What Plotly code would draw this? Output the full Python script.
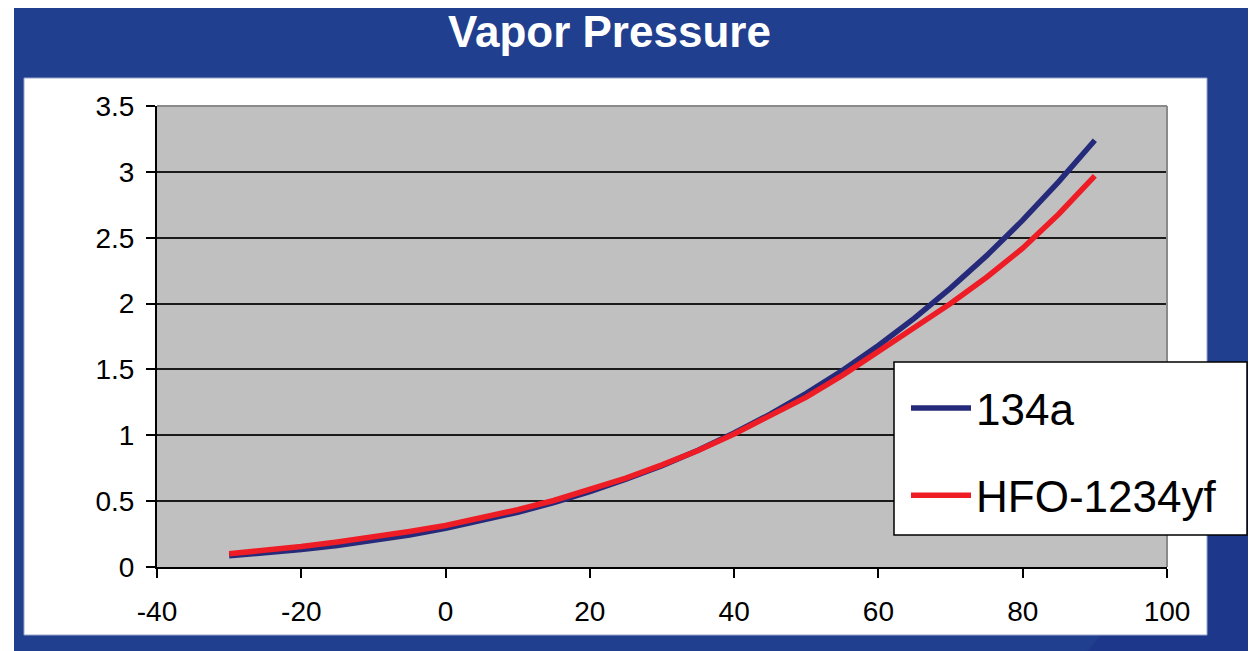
import plotly.graph_objects as go

# Data (temperature in °C, vapor pressure in MPa)
temps = [-30, -25, -20, -15, -10, -5, 0, 5, 10, 15, 20, 25, 30, 35, 40, 45, 50, 55, 60, 65, 70, 75, 80, 85, 90]
p_134a = [0.085, 0.106, 0.133, 0.164, 0.201, 0.243, 0.293, 0.350, 0.415, 0.489, 0.572, 0.666, 0.770,
          0.887, 1.017, 1.160, 1.318, 1.492, 1.682, 1.889, 2.117, 2.364, 2.633, 2.926, 3.240]
p_1234yf = [0.100, 0.125, 0.155, 0.190, 0.225, 0.270, 0.315, 0.370, 0.435, 0.505, 0.585, 0.675, 0.775,
            0.885, 1.010, 1.145, 1.290, 1.455, 1.635, 1.815, 2.000, 2.200, 2.420, 2.680, 2.970]
series_names = ["134a", "HFO-1234yf"]
series_colors = ["#262a7a", "#ee1c25"]
x_ticks = [-40, -20, 0, 20, 40, 60, 80, 100]
y_ticks = [0, 0.5, 1, 1.5, 2, 2.5, 3, 3.5]
title_text = "Vapor Pressure"

OFF = 8                      # page body margin in the browser
FW, FH = 1256 - OFF, 651 - OFF
L, R, T, B = 157, 1167, 106, 567  # plot area in page pixels


def fx(px):
    return (px - L) / (R - L)


def fy(py):
    return (B - py) / (B - T)


FONT = "Arial, Liberation Sans, Helvetica, sans-serif"
BLUE = "#213f8f"

fig = go.Figure()
for i, (name, vals) in enumerate(zip(series_names, [p_134a, p_1234yf])):
    fig.add_trace(go.Scatter(
        x=temps, y=vals, mode="lines", name=name, legendgroup=name,
        line=dict(color=series_colors[i], width=5.5),
    ))

shapes = [
    # blue slide background
    dict(type="rect", xref="paper", yref="paper", x0=fx(14), x1=fx(1270), y0=fy(-10), y1=fy(660),
         fillcolor=BLUE, line=dict(width=0), layer="below"),
    # subtle darker swoosh bottom right
    dict(type="path", xref="paper", yref="paper",
         path=f"M {fx(1080)} {fy(660)} Q {fx(1200)} {fy(520)} {fx(1270)} {fy(300)} L {fx(1270)} {fy(660)} Z",
         fillcolor="#1d388a", line=dict(width=0), layer="below"),
    # white chart panel
    dict(type="rect", xref="paper", yref="paper", x0=fx(24), x1=fx(1207), y0=fy(78), y1=fy(635),
         fillcolor="white", line=dict(color="#9aa6c8", width=1), layer="below"),
    # gray plot area
    dict(type="rect", xref="paper", yref="paper", x0=0, x1=1, y0=0, y1=1,
         fillcolor="#c0c0c0", line=dict(width=0), layer="below"),
    # gray top/right border of plot area
    dict(type="line", xref="paper", yref="paper", x0=0, x1=1, y0=1, y1=1,
         line=dict(color="#8a8a8a", width=2), layer="above"),
    dict(type="line", xref="paper", yref="paper", x0=1, x1=1, y0=0, y1=1,
         line=dict(color="#8a8a8a", width=2), layer="above"),
    # legend box
    dict(type="rect", xref="paper", yref="paper", x0=fx(894), x1=fx(1247), y0=fy(362), y1=fy(535),
         fillcolor="white", line=dict(color="black", width=1.5), layer="above"),
]

fig.update_layout(
    width=FW, height=FH,
    margin=dict(l=L - OFF, r=FW - (R - OFF), t=T - OFF, b=FH - (B - OFF), pad=0),
    paper_bgcolor="white",
    plot_bgcolor="#c0c0c0",
    font=dict(family=FONT, color="black", size=28),
    shapes=shapes,
    annotations=[dict(
        text=f"<b>{title_text}</b>", xref="paper", yref="paper",
        x=fx(609), y=fy(31), xanchor="center", yanchor="middle", showarrow=False,
        font=dict(family=FONT, size=44, color="white"),
    )],
    showlegend=True,
    legend=dict(
        x=fx(906), y=fy(373), xanchor="left", yanchor="top",
        bgcolor="rgba(0,0,0,0)", borderwidth=0,
        font=dict(family=FONT, size=44, color="black"),
        tracegroupgap=27, itemwidth=60,
    ),
    xaxis=dict(
        range=[-40, 100], tickvals=x_ticks, ticktext=[str(v) for v in x_ticks],
        showgrid=False, zeroline=False,
        showline=True, linecolor="black", linewidth=2,
        ticks="outside", ticklen=9, tickwidth=1.5, tickcolor="black",
        tickfont=dict(size=28), ticklabelstandoff=9,
    ),
    yaxis=dict(
        range=[0, 3.5], tickvals=y_ticks, ticktext=[f"{v:g}" for v in y_ticks],
        showgrid=True, gridcolor="#1a1a1a", gridwidth=2, zeroline=False,
        showline=True, linecolor="black", linewidth=2,
        ticks="outside", ticklen=9, tickwidth=1.5, tickcolor="black",
        tickfont=dict(size=28), ticklabelstandoff=6,
    ),
)

fig.write_html("out.html")
